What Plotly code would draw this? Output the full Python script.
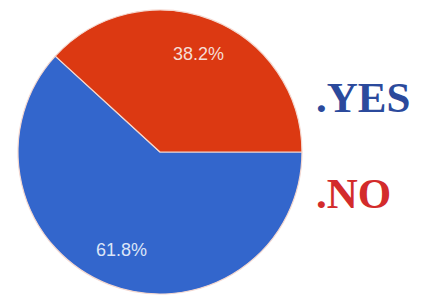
import math
import plotly.graph_objects as go

labels = ["YES", "NO"]
values = [61.8, 38.2]
slice_colors = ["#3366CC", "#DC3912"]
pct_text_colors = ["#DCE5F7", "#F5DDD6"]
legend_labels = [".YES", ".NO"]
legend_colors = ["#2B4A9C", "#D32B2B"]

W, H = 432, 297
dom_x = [0.0417, 0.699]
dom_y = [0.0101, 0.9663]

fig = go.Figure()
fig.add_trace(go.Pie(
    labels=labels,
    values=values,
    sort=False,
    direction="counterclockwise",
    rotation=90,
    marker=dict(colors=slice_colors, line=dict(color="#F4D8D0", width=1.2)),
    textinfo="none",
    showlegend=False,
    hoverinfo="skip",
    domain=dict(x=dom_x, y=dom_y),
))

# percentage labels placed at each slice's mid-angle (derived from values)
cx = (dom_x[0] + dom_x[1]) / 2 * W
cy = (dom_y[0] + dom_y[1]) / 2 * H
R = min((dom_x[1] - dom_x[0]) * W, (dom_y[1] - dom_y[0]) * H) / 2
total = sum(values)
fr = [v / total for v in values]
a0 = -360 * fr[0]
for v, f, col in zip(values, fr, pct_text_colors):
    mid = math.radians(a0 + 360 * f / 2)
    a0 += 360 * f
    px = cx + 0.74 * R * math.cos(mid)
    py = cy + 0.74 * R * math.sin(mid)
    fig.add_annotation(
        text=f"{v:.1f}%", x=px / W, y=py / H, xref="paper", yref="paper",
        xanchor="center", yanchor="middle", showarrow=False,
        font=dict(family="Arial, Liberation Sans, sans-serif", size=18, color=col),
    )

ys = [0.673, 0.35]
for txt, col, y in zip(legend_labels, legend_colors, ys):
    fig.add_annotation(
        text=f"<b>{txt}</b>", x=0.728, y=y, xref="paper", yref="paper",
        xanchor="left", yanchor="middle", showarrow=False,
        font=dict(family="Liberation Serif, DejaVu Serif, serif", size=43, color=col),
    )

fig.update_layout(
    width=W, height=H,
    margin=dict(l=0, r=0, t=0, b=0),
    paper_bgcolor="white", plot_bgcolor="white",
)
fig.write_html("out.html", config={"displayModeBar": False},
               post_script="document.body.style.margin='0';")
